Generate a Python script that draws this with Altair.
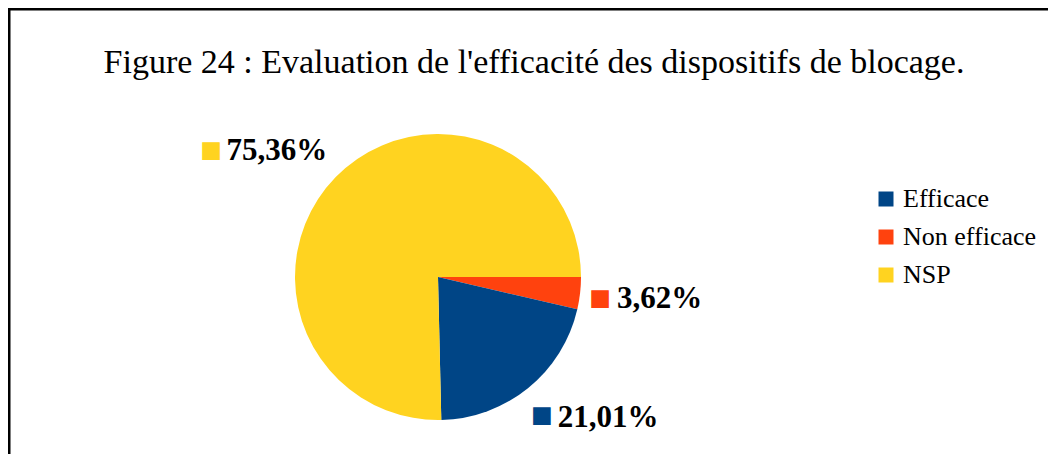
import math
import altair as alt
import pandas as pd

categories = ["Non efficace", "Efficace", "NSP"]
values = [3.62, 21.01, 75.36]
labels = ["3,62%", "21,01%", "75,36%"]
stack_order = [0, 1, 2]
legend_order = ["Efficace", "Non efficace", "NSP"]
colors = ["#004586", "#ff420e", "#ffd320"]
title_text = "Figure 24 : Evaluation de l'efficacité des dispositifs de blocage."

df = pd.DataFrame({"cat": categories, "val": values, "lab": labels, "ord": stack_order})
total = float(sum(values))

CX, CY = 430, 269
theta_scale = alt.Scale(domain=[0, total], range=[math.pi / 2, math.pi / 2 + 2 * math.pi])
color_scale = alt.Scale(domain=legend_order, range=colors)

pie = alt.Chart(df).mark_arc(outerRadius=143, stroke=None).encode(
    theta=alt.Theta("val:Q", stack=True, scale=theta_scale),
    order=alt.Order("ord:Q"),
    color=alt.Color("cat:N", scale=color_scale,
                    legend=alt.Legend(title=None, orient="none", legendX=865, legendY=178,
                                      symbolType="square", symbolSize=225, symbolStrokeWidth=0,
                                      labelFont="Liberation Serif", labelFontSize=26,
                                      labelColor="black", rowPadding=12, labelOffset=4,
                                      symbolOffset=0)),
    x=alt.value(CX), y=alt.value(CY),
)

label_base = alt.Chart(df).transform_window(
    cum="sum(val)", sort=[alt.SortField("ord")], frame=[None, 0]
).transform_calculate(mid="datum.cum - datum.val / 2")

R = 155


def label_pair(cat, align, text_dx, text_dy, sq_dx, sq_dy):
    b = label_base.transform_filter(alt.datum.cat == cat).encode(
        theta=alt.Theta("mid:Q", scale=theta_scale, stack=None),
        x=alt.value(CX), y=alt.value(CY),
    )
    sq = b.mark_text(radius=R, dx=sq_dx, dy=sq_dy, font="DejaVu Sans", fontSize=23,
                     baseline="middle", align="center").encode(
        text=alt.value("■"),
        color=alt.Color("cat:N", scale=color_scale, legend=None),
    )
    tx = b.mark_text(radius=R, dx=text_dx, dy=text_dy, font="Liberation Serif", fontSize=31,
                     fontWeight="bold", baseline="alphabetic", align=align,
                     color="black").encode(text="lab:N")
    return [sq, tx]


layers = []
layers += label_pair("NSP", "right", 0, -9, -116, -19)
layers += label_pair("Efficace", "left", 22, 30, 6, 18)
layers += label_pair("Non efficace", "left", 25, 13, 8, 3)

one = alt.Data(values=[{}])
title = alt.Chart(one).mark_text(font="Liberation Serif", fontSize=34, align="center",
                                 baseline="alphabetic", color="black").encode(
    text=alt.value(title_text), x=alt.value(526), y=alt.value(65)
)
left_rule = alt.Chart(one).mark_rule(color="black", strokeWidth=3).encode(
    x=alt.value(1), y=alt.value(0), y2=alt.value(446)
)
top_rule = alt.Chart(one).mark_rule(color="black", strokeWidth=3).encode(
    y=alt.value(1), x=alt.value(0), x2=alt.value(1040)
)

chart = alt.layer(pie, *layers, title, left_rule, top_rule).properties(
    width=1040, height=446, padding=0, autosize=alt.AutoSizeParams(type="none")
).configure_view(stroke=None).resolve_scale(color="independent")

chart.save("out.html", embed_options={"renderer": "svg", "actions": False})
